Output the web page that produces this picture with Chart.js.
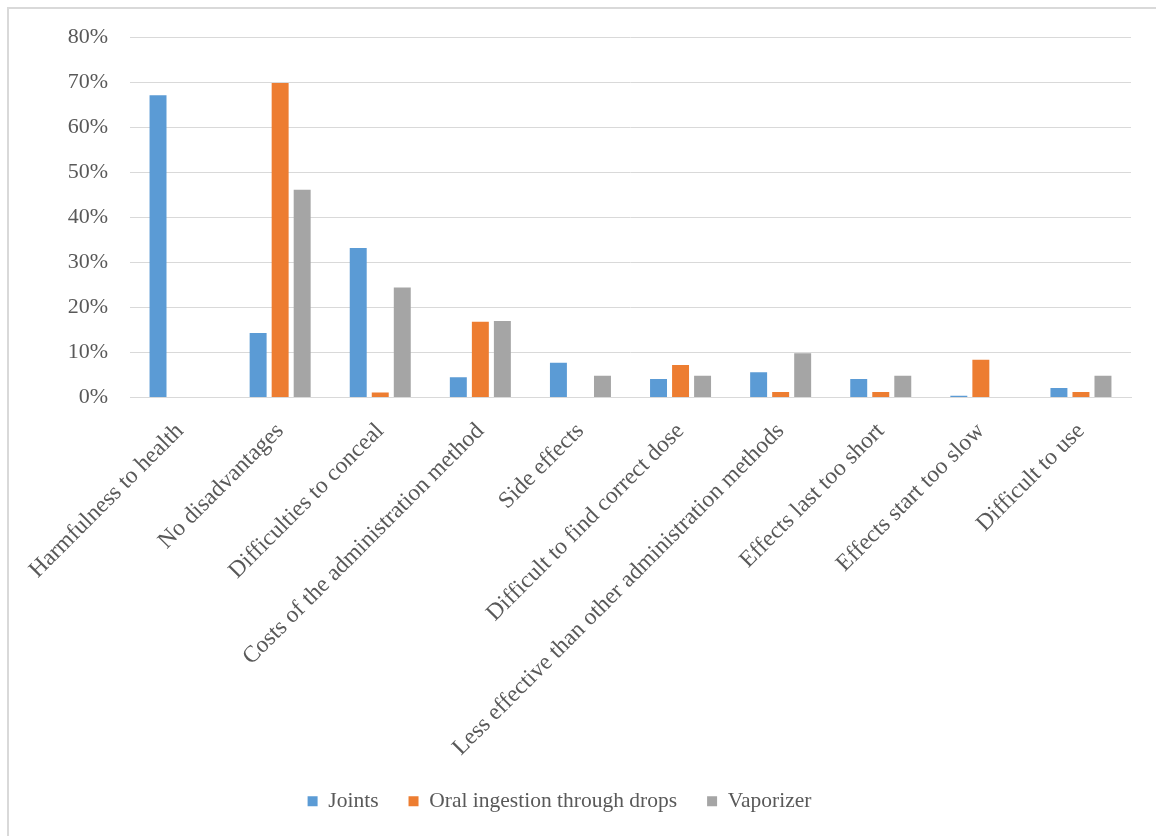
<!DOCTYPE html>
<html>
<head>
<meta charset="utf-8">
<script src="https://cdn.jsdelivr.net/npm/chart.js@4"></script>
<style>
  html, body { margin: 0; padding: 0; background: #fff; overflow: hidden; }
  #frame {
    position: absolute; left: 7px; top: 7px;
    width: 1170px; height: 850px;
    border: 2px solid #d9d9d9;
    box-sizing: border-box;
  }
  #wrap { position: absolute; left: 0; top: 0; width: 1156px; height: 836px; }
</style>
</head>
<body>
<div id="frame"></div>
<div id="wrap"><canvas id="disadvantagesChart"></canvas></div>
<script>
// Perceived disadvantages per administration method (% of respondents)
const categories = [
  'Harmfulness to health',
  'No disadvantages',
  'Difficulties to conceal',
  'Costs of the administration method',
  'Side effects',
  'Difficult to find correct dose',
  'Less effective than other administration methods',
  'Effects last too short',
  'Effects start too slow',
  'Difficult to use'
];

const joints = [67.1, 14.3, 33.2, 4.5, 7.7, 4.1, 5.6, 4.1, 0.4, 2.1];
const oralDrops = [0, 69.8, 1.1, 16.8, 0, 7.2, 1.2, 1.2, 8.4, 1.2];
const vaporizer = [0, 46.1, 24.4, 17.0, 4.8, 4.8, 9.8, 4.8, 0, 4.8];

const yTicks = [0, 10, 20, 30, 40, 50, 60, 70, 80];

const colors = {
  joints: '#5b9bd5',
  oral: '#ed7d31',
  vaporizer: '#a5a5a5',
  grid: '#d9d9d9',
  text: '#595959'
};

const fontFamily = "'Liberation Serif', 'Times New Roman', serif";

function barSet(label, data, color) {
  return {
    label: label,
    data: data,
    backgroundColor: color,
    borderWidth: 0,
    barPercentage: 0.77,
    categoryPercentage: 0.66
  };
}

// nudge the legend row a bit left of the canvas centre
const legendShift = {
  id: 'legendShift',
  afterLayout(chart) {
    const lg = chart.legend;
    if (lg) {
      lg.left -= 16;
      lg.right -= 16;
    }
  }
};

const ctx = document.getElementById('disadvantagesChart').getContext('2d');

new Chart(ctx, {
  type: 'bar',
  data: {
    labels: categories,
    datasets: [
      barSet('Joints', joints, colors.joints),
      barSet('Oral ingestion through drops', oralDrops, colors.oral),
      barSet('Vaporizer', vaporizer, colors.vaporizer)
    ]
  },
  options: {
    responsive: true,
    maintainAspectRatio: false,
    animation: false,
    layout: {
      padding: { left: 20, right: 25, top: 37, bottom: 14 }
    },
    plugins: {
      legend: {
        position: 'bottom',
        labels: {
          boxWidth: 10,
          boxHeight: 10,
          padding: 30,
          color: colors.text,
          font: { family: fontFamily, size: 21.5 }
        }
      },
      tooltip: { enabled: false }
    },
    scales: {
      x: {
        grid: { display: false },
        border: { display: true, color: colors.grid, width: 1 },
        ticks: {
          color: colors.text,
          font: { family: fontFamily, size: 23.5 },
          maxRotation: 45,
          minRotation: 45,
          autoSkip: false,
          padding: 12
        },
        afterFit: (scale) => { scale.height = 363; }
      },
      y: {
        min: 0,
        max: 80,
        afterBuildTicks: (scale) => {
          scale.ticks = yTicks.map(v => ({ value: v }));
        },
        grid: { color: colors.grid, lineWidth: 1, drawTicks: false },
        border: { display: false },
        ticks: {
          color: colors.text,
          font: { family: fontFamily, size: 22 },
          padding: 22,
          callback: (value) => value + '%'
        },
        afterFit: (scale) => { scale.width = 110; }
      }
    }
  },
  plugins: [legendShift]
});
</script>
</body>
</html>
